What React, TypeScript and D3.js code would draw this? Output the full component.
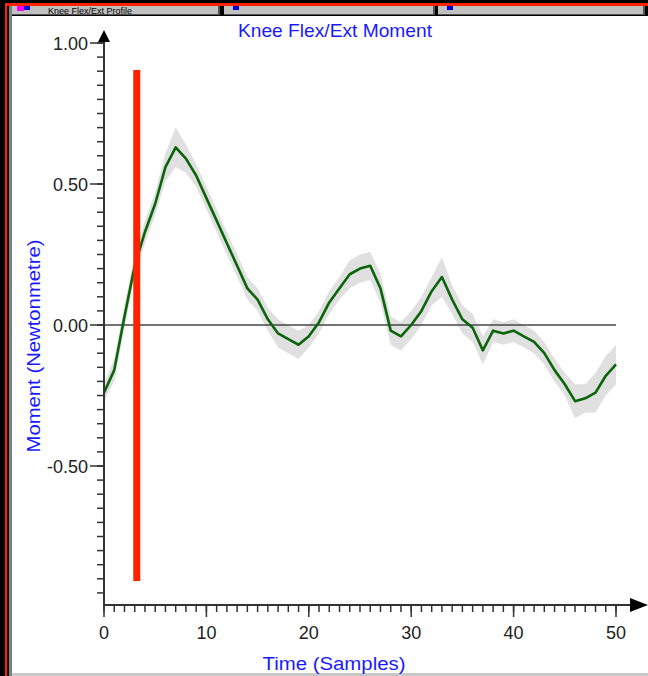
import React from "react";
import * as d3 from "d3";

const samples: number[] = d3.range(0, 51);
const meanValues: number[] = [
  -0.24, -0.16, 0.03, 0.21, 0.33, 0.43, 0.56, 0.63, 0.59, 0.53,
  0.45, 0.37, 0.29, 0.21, 0.13, 0.09, 0.02, -0.03, -0.05, -0.07,
  -0.04, 0.01, 0.08, 0.13, 0.18, 0.2, 0.21, 0.13, -0.02, -0.04,
  0.0, 0.05, 0.12, 0.17, 0.09, 0.02, -0.01, -0.09, -0.02, -0.03,
  -0.02, -0.04, -0.06, -0.1, -0.16, -0.21, -0.27, -0.26, -0.24, -0.18,
  -0.14,
];
const sdValues: number[] = [
  0.03, 0.04, 0.04, 0.04, 0.04, 0.04, 0.05, 0.07, 0.05, 0.04,
  0.04, 0.04, 0.04, 0.04, 0.04, 0.04, 0.04, 0.05, 0.05, 0.05,
  0.04, 0.04, 0.04, 0.04, 0.05, 0.05, 0.05, 0.05, 0.05, 0.05,
  0.05, 0.05, 0.05, 0.07, 0.05, 0.05, 0.05, 0.05, 0.04, 0.04,
  0.04, 0.04, 0.04, 0.04, 0.04, 0.04, 0.06, 0.05, 0.07, 0.07,
  0.07,
];
const yTickLabels: number[] = [1.0, 0.5, 0.0, -0.5];
const xTickLabels: number[] = [0, 10, 20, 30, 40, 50];
const markerSample = 3.2;
const tabs: string[] = ["Knee Flex/Ext Profile", "", ""];

const W = 648;
const H = 676;

export default function App() {
  const x = d3.scaleLinear().domain([0, 50]).range([104, 616]);
  const y = d3.scaleLinear().domain([-1, 1]).range([607, 43]);

  const rows = samples.map((s, i) => ({ s, m: meanValues[i], sd: sdValues[i] }));
  const line = d3
    .line<{ s: number; m: number; sd: number }>()
    .x((d) => x(d.s))
    .y((d) => y(d.m));
  const area = d3
    .area<{ s: number; m: number; sd: number }>()
    .x((d) => x(d.s))
    .y0((d) => y(d.m - d.sd))
    .y1((d) => y(d.m + d.sd));

  const yMinor = d3.range(-19, 21).map((k) => k * 0.05);
  const xMinor = d3.range(0, 51);
  const axisColor = "#333";
  const font = "'Liberation Sans', Arial, sans-serif";

  const tabXs = [12, 224, 438];
  const tabWs = [208, 211, 207];

  return (
    <svg
      width={W}
      height={H}
      style={{ position: "fixed", left: 0, top: 0 }}
      fontFamily={font}
    >
      <rect x={0} y={0} width={W} height={H} fill="#000" />
      <rect x={5} y={3} width={W - 5} height={3} fill="#ff2200" />
      <rect x={5} y={3} width={2} height={H - 3} fill="#ff2200" />
      <rect x={9} y={6} width={3} height={H - 6} fill="#808080" />
      <rect x={12} y={16} width={W - 12} height={657} fill="#fff" />
      <rect x={12} y={673} width={W - 12} height={3} fill="#c8c8c8" />

      {/* tab bar */}
      <rect x={12} y={6} width={W - 12} height={10} fill="#000" />
      {tabs.map((t, i) => (
        <g key={i}>
          <rect x={tabXs[i]} y={6} width={tabWs[i]} height={9} fill="#c0c0c0" />
          <line x1={tabXs[i] + tabWs[i] - 1} x2={tabXs[i] + tabWs[i] - 1} y1={6} y2={15} stroke="#555" strokeWidth={2} />
          <line x1={tabXs[i]} x2={tabXs[i] + tabWs[i]} y1={14.5} y2={14.5} stroke="#555" />
          <rect x={tabXs[i] + (i === 0 ? 12 : 9)} y={6} width={6} height={4} fill="#0000dd" />
          {i === 0 && <rect x={tabXs[i] + 5} y={6} width={7} height={5} fill="#ff00ff" />}
          {t && (
            <text x={tabXs[i] + 36} y={13.5} fontSize={9} fill="#000">
              {t}
            </text>
          )}
        </g>
      ))}

      {/* title */}
      <text x={335} y={37} fontSize={19} fill="#1a1aff" textAnchor="middle" textLength={194} lengthAdjust="spacingAndGlyphs">
        Knee Flex/Ext Moment
      </text>

      {/* band and line */}
      <path d={area(rows) || ""} fill="#e0e0e0" />
      <line x1={x(0)} x2={x(50)} y1={y(0)} y2={y(0)} stroke="#444" strokeWidth={1.5} />
      <path d={line(rows) || ""} fill="none" stroke="#0a650a" strokeWidth={2.6} strokeLinejoin="round" />

      {/* marker */}
      <rect x={x(markerSample) - 3.5} y={70} width={7} height={511} fill="#ff2200" />

      {/* y axis */}
      <line x1={104} x2={104} y1={40} y2={606} stroke={axisColor} strokeWidth={2} />
      <path d="M104,30 L98,42 L110,42 Z" fill="#000" />
      {yMinor.map((v) => (
        <line key={v} x1={97} x2={104} y1={y(v)} y2={y(v)} stroke={axisColor} strokeWidth={1.5} />
      ))}
      {yTickLabels.map((v) => (
        <g key={v}>
          <line x1={90} x2={104} y1={y(v)} y2={y(v)} stroke={axisColor} strokeWidth={1.5} />
          <text x={88} y={y(v) + 6.5} fontSize={18} fill="#222" textAnchor="end">
            {d3.format(".2f")(v).replace("−", "-")}
          </text>
        </g>
      ))}
      <text
        transform={`translate(40,346) rotate(-90)`}
        fontSize={18}
        fill="#1a1aff"
        textAnchor="middle"
        textLength={213}
        lengthAdjust="spacingAndGlyphs"
      >
        Moment (Newtonmetre)
      </text>

      {/* x axis */}
      <line x1={103} x2={632} y1={605} y2={605} stroke={axisColor} strokeWidth={2} />
      <path d="M648,605 L630,598 L630,612 Z" fill="#000" />
      {xMinor.map((s) => (
        <line key={s} x1={x(s)} x2={x(s)} y1={605} y2={612} stroke={axisColor} strokeWidth={1.5} />
      ))}
      {xTickLabels.map((s) => (
        <g key={s}>
          <line x1={x(s)} x2={x(s)} y1={605} y2={617} stroke={axisColor} strokeWidth={1.5} />
          <text x={x(s)} y={639} fontSize={18} fill="#222" textAnchor="middle">
            {s}
          </text>
        </g>
      ))}
      <text x={334} y={670} fontSize={18} fill="#1a1aff" textAnchor="middle" textLength={143} lengthAdjust="spacingAndGlyphs">
        Time (Samples)
      </text>
    </svg>
  );
}
